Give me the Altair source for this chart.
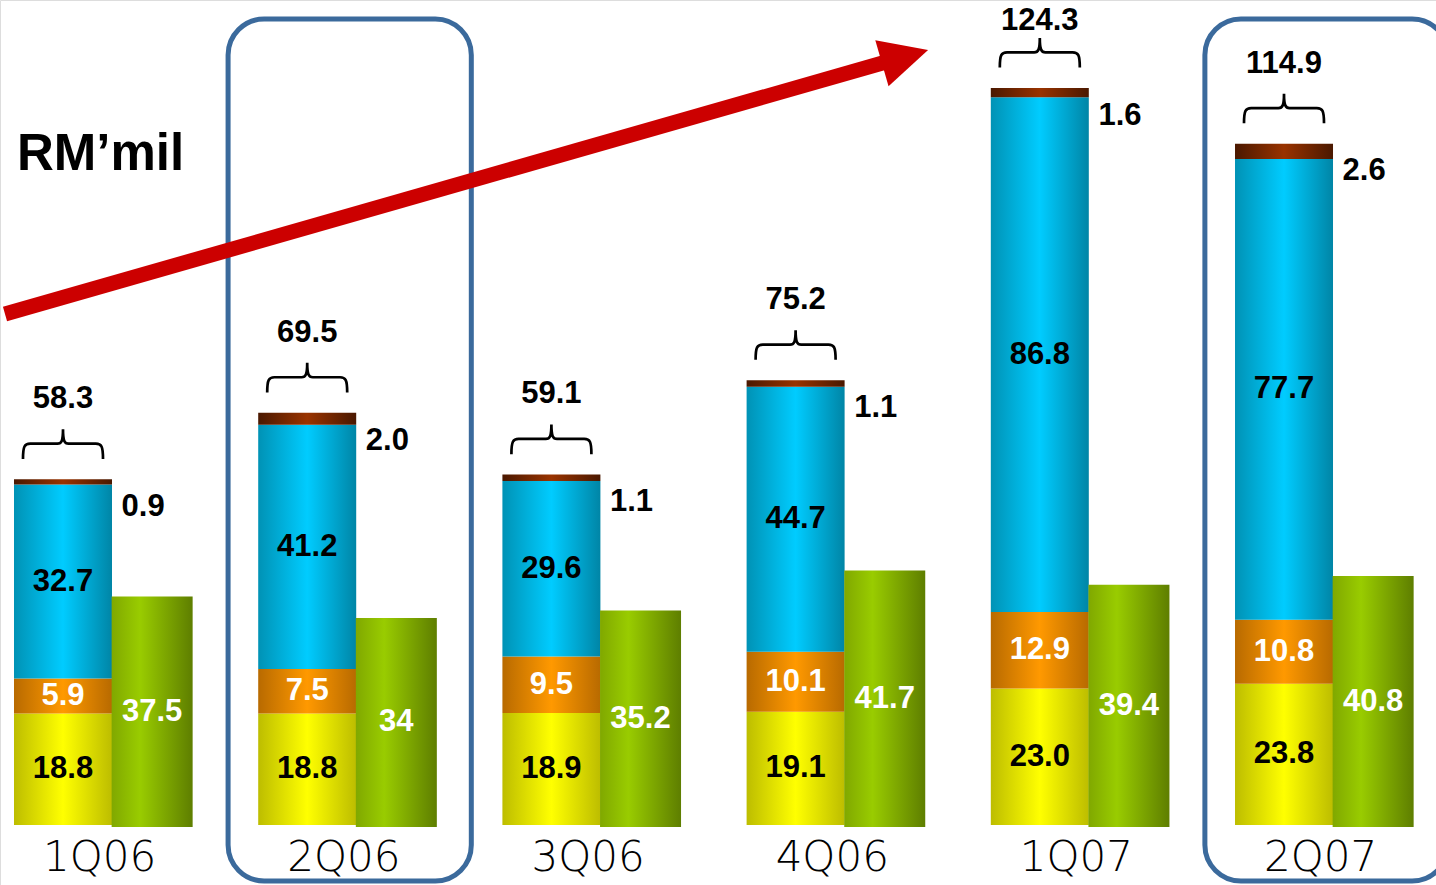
import altair as alt
import pandas as pd

# ---- data ----
categories = ["1Q06", "2Q06", "3Q06", "4Q06", "1Q07", "2Q07"]
yellow = [18.8, 18.8, 18.9, 19.1, 23.0, 23.8]
orange = [5.9, 7.5, 9.5, 10.1, 12.9, 10.8]
blue = [32.7, 41.2, 29.6, 44.7, 86.8, 77.7]
brown = [0.9, 2.0, 1.1, 1.1, 1.6, 2.6]
totals = [58.3, 69.5, 59.1, 75.2, 124.3, 114.9]
green = [37.5, 34, 35.2, 41.7, 39.4, 40.8]
highlighted = ["2Q06", "2Q07"]

df = pd.DataFrame({
    "cat": categories,
    "idx": list(range(len(categories))),
    "yellow": yellow, "orange": orange, "blue": blue, "brown": brown,
    "total": totals, "green": green,
})
df["zero"] = 0.0
df["y1"] = df["yellow"]
df["o1"] = df["y1"] + df["orange"]
df["b1"] = df["o1"] + df["blue"]
df["t1"] = df["b1"] + df["brown"]
df["hl"] = df["cat"].isin(highlighted)

W, H = 1436, 885
xs = alt.Scale(domain=[-0.258, 5.6224], nice=False, zero=False, padding=0)
ys = alt.Scale(domain=[-10.12, 139.12], nice=False, zero=False, padding=0)
yg = alt.Scale(domain=[-9.43, 134.47], nice=False, zero=False, padding=0)

FONT = "Liberation Sans"


def grad(edge_l, mid, edge_r, mid_at=0.5):
    return alt.LinearGradient(
        gradient="linear", x1=0, x2=1, y1=0, y2=0,
        stops=[alt.GradientStop(color=edge_l, offset=0),
               alt.GradientStop(color=mid, offset=mid_at),
               alt.GradientStop(color=edge_r, offset=1)])


base = alt.Chart(df)
X = alt.X("idx:Q", scale=xs, axis=None)


def seg(lo, hi, g):
    return base.mark_bar(size=98, color=g).encode(
        x=X,
        y=alt.Y(f"{hi}:Q", scale=ys, axis=None),
        y2=alt.Y2(f"{lo}:Q"),
    )


yellow_bar = seg("zero", "y1", grad("#BDBD00", "#FFFF00", "#BDBD00"))
orange_bar = seg("y1", "o1", grad("#B86A00", "#FF9900", "#B86A00"))
blue_bar = seg("o1", "b1", grad("#0092B5", "#00CCFF", "#0085A6"))
brown_bar = seg("b1", "t1", grad("#4A1800", "#993300", "#4A1800"))

green_bar = base.transform_calculate(gx="datum.idx + 0.365").mark_bar(
    size=81, color=grad("#80A800", "#99CC00", "#5E7E00", 0.35)).encode(
    x=alt.X("gx:Q", scale=xs, axis=None),
    y=alt.Y("green:Q", scale=yg, axis=None),
    y2=alt.Y2("zero:Q"))


def label(ycalc, text_expr, color, scale=ys, xoff=0.0, align="center", size=31):
    return base.transform_calculate(
        lx=f"datum.idx + {xoff}", ly=ycalc, lt=text_expr
    ).mark_text(font=FONT, fontWeight="bold", fontSize=size, color=color,
                align=align, baseline="middle").encode(
        x=alt.X("lx:Q", scale=xs, axis=None),
        y=alt.Y("ly:Q", scale=scale, axis=None),
        text="lt:N")


yellow_lab = label("datum.y1 / 2", "format(datum.yellow, '.1f')", "black")
orange_lab = label("(datum.y1 + datum.o1) / 2", "format(datum.orange, '.1f')", "white")
blue_lab = label("(datum.o1 + datum.b1) / 2", "format(datum.blue, '.1f')", "black")
brown_lab = label("datum.t1 - 4.7", "format(datum.brown, '.1f')", "black",
                  xoff=0.24, align="left")
green_lab = label("datum.green / 2", "'' + datum.green", "white", scale=yg, xoff=0.365)
total_lab = label("min(datum.t1 + 13.5, 135.5)", "format(datum.total, '.1f')", "black")

BRACE = ("M -1 0.38 C -1 0.06 -0.96 0 -0.82 0 L -0.14 0 "
         "C -0.04 0 0 -0.06 0 -0.36 C 0 -0.06 0.04 0 0.14 0 "
         "L 0.82 0 C 0.96 0 1 0.06 1 0.38")
braces = base.transform_calculate(by="datum.t1 + 6.0").mark_point(
    shape=BRACE, size=6400, filled=False, stroke="black", strokeWidth=2.7,
    opacity=1).encode(
    x=X, y=alt.Y("by:Q", scale=ys, axis=None))

cat_lab = base.transform_calculate(cx="datum.idx + 0.15").mark_text(
    font="DejaVu Sans", fontWeight=200, fontSize=42, color="black",
    align="center", baseline="middle").encode(
    x=alt.X("cx:Q", scale=xs, axis=None), y=alt.value(858), text="cat:N")

boxes = base.transform_filter("datum.hl").transform_calculate(
    bx1="datum.idx - 0.324", bx2="datum.idx + 0.672").mark_rect(
    fill="transparent", stroke="#3B6A9C", strokeWidth=5, cornerRadius=36).encode(
    x=alt.X("bx1:Q", scale=xs, axis=None), x2="bx2:Q",
    y=alt.value(19), y2=alt.value(881))

one = alt.Chart(pd.DataFrame({"a": [0]}))
arrow_shaft = one.mark_rule(strokeWidth=15, color="#CC0000").encode(
    x=alt.value(5), y=alt.value(314), x2=alt.value(886), y2=alt.value(62))
arrow_head = one.mark_point(shape="M -1 -1 L 1 0 L -1 1 Z", size=2304, angle=344,
                            filled=True, color="#CC0000", opacity=1).encode(
    x=alt.value(905), y=alt.value(56.6))

title_txt = one.mark_text(text="RM’mil", font=FONT, fontWeight="bold", fontSize=51,
                          color="black", align="left", baseline="middle").encode(
    x=alt.value(17), y=alt.value(155))

chart = alt.layer(
    boxes, arrow_shaft, arrow_head,
    yellow_bar, orange_bar, blue_bar, brown_bar, green_bar,
    yellow_lab, orange_lab, blue_lab, brown_lab, green_lab, total_lab,
    braces, cat_lab, title_txt,
).resolve_scale(y="independent").properties(
    width=W, height=H, padding=0,
    autosize=alt.AutoSizeParams(type="none"),
).configure_view(stroke=None).configure(background="white")

chart.save("out.html", embed_options={"renderer": "svg", "actions": False})
